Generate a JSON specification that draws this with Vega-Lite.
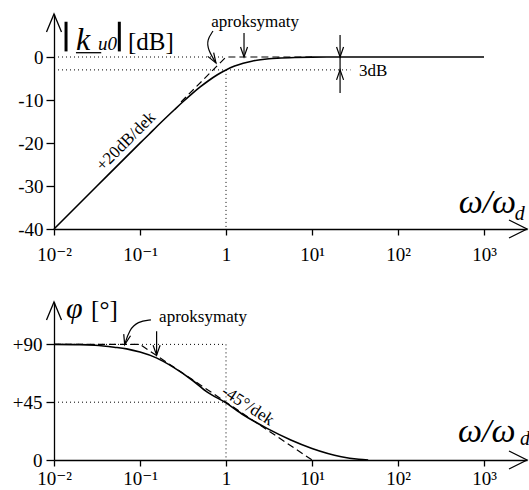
{
  "$schema": "https://vega.github.io/schema/vega-lite/v6.json",
  "background": "white",
  "padding": {"left": 12, "top": 11, "right": 2, "bottom": 0},
  "spacing": 73,
  "bounds": "flush",
  "config": {
    "view": {"stroke": null},
    "axis": {"grid": false, "domainColor": "black", "domainWidth": 1.3, "tickColor": "black", "tickWidth": 1.3, "labelColor": "black", "labelFont": "Liberation Serif, DejaVu Serif, serif", "labelFontSize": 19},
    "text": {"font": "Liberation Serif, DejaVu Serif, serif", "color": "black"},
    "line": {"color": "black"}
  },
  "vconcat": [
    {
      "width": 473,
      "height": 215,
      "encoding": {
        "x": {"field": "w", "type": "quantitative", "scale": {"type": "log", "domain": [0.01, 3162.28], "nice": false},
          "axis": {"title": null, "values": [0.01, 0.1, 1, 10, 100, 1000], "labelExpr": "datum.value == 1 ? '1' : datum.value < 0.05 ? '10⁻²' : datum.value < 0.5 ? '10⁻¹' : datum.value < 50 ? '10¹' : datum.value < 500 ? '10²' : '10³'", "tickSize": 6, "labelPadding": 10, "labelFontSize": 19, "labelFlush": false, "labelOverlap": false}},
        "y": {"field": "v", "type": "quantitative", "scale": {"domain": [-40, 10], "nice": false, "zero": false},
          "axis": {"title": null, "values": [-40, -30, -20, -10, 0], "labelExpr": "datum.value == 0 ? '0' : '-' + abs(datum.value)", "tickSize": 8, "labelPadding": 3}}
      },
      "layer": [
        {
          "data": {"values": [
            {"s": "a", "w": 0.01, "v": 0}, {"s": "a", "w": 1, "v": 0},
            {"s": "b", "w": 0.01, "v": -3}, {"s": "b", "w": 28, "v": -3},
            {"s": "c", "w": 1, "v": -3}, {"s": "c", "w": 1, "v": -40}
          ]},
          "mark": {"type": "line", "strokeDash": [1, 3], "strokeWidth": 1},
          "encoding": {"detail": {"field": "s"}}
        },
        {
          "data": {"values": [{"w": 0.3, "v": -10.46}, {"w": 1, "v": 0}, {"w": 10, "v": 0}]},
          "mark": {"type": "line", "strokeDash": [7, 4], "strokeWidth": 1.2},
          "encoding": {}
        },
        {
          "data": {"values": [
            {"w": 0.01, "v": -40}, {"w": 0.0316, "v": -30}, {"w": 0.1, "v": -20.04}, {"w": 0.126, "v": -18.07},
            {"w": 0.158, "v": -16.11}, {"w": 0.251, "v": -12.27}, {"w": 0.316, "v": -10.41}, {"w": 0.398, "v": -8.64},
            {"w": 0.501, "v": -6.97}, {"w": 0.631, "v": -5.46}, {"w": 0.794, "v": -4.12}, {"w": 1, "v": -3.01},
            {"w": 1.259, "v": -2.12}, {"w": 1.585, "v": -1.46}, {"w": 1.995, "v": -0.97}, {"w": 2.512, "v": -0.64},
            {"w": 3.162, "v": -0.41}, {"w": 3.981, "v": -0.27}, {"w": 6.31, "v": -0.11}, {"w": 10, "v": -0.04},
            {"w": 31.6, "v": 0}, {"w": 1000, "v": 0}
          ]},
          "mark": {"type": "line", "strokeWidth": 1.6, "interpolate": "monotone"},
          "encoding": {}
        },
        {
          "data": {"values": [
            {"s": "c", "i": 1, "w": 0.706, "v": 6.05}, {"s": "c", "i": 2, "w": 0.601, "v": 3.95},
            {"s": "c", "i": 3, "w": 0.618, "v": 1.63}, {"s": "c", "i": 4, "w": 0.765, "v": -1.4},
            {"s": "s", "i": 1, "w": 1.62, "v": 5.6}, {"s": "s", "i": 2, "w": 1.62, "v": 0},
            {"s": "t", "i": 1, "w": 21.2, "v": 5.1}, {"s": "t", "i": 2, "w": 21.2, "v": -8.4}
          ]},
          "mark": {"type": "line", "strokeWidth": 1.2, "interpolate": "basis"},
          "encoding": {"detail": {"field": "s"}, "order": {"field": "i"}}
        },
        {
          "data": {"values": [
            {"s": "a", "w": 0.0138, "v": 8.2}, {"s": "a", "w": 0.0138, "v": 1.3},
            {"s": "b", "w": 0.0575, "v": 8.2}, {"s": "b", "w": 0.0575, "v": 1.3}
          ]},
          "mark": {"type": "line", "strokeWidth": 3, "strokeCap": "butt"},
          "encoding": {"detail": {"field": "s"}}
        },
        {
          "data": {"values": [{"w": 0.018, "v": 1.0}, {"w": 0.0354, "v": 1.0}]},
          "mark": {"type": "line", "strokeWidth": 1.3},
          "encoding": {}
        },
        {
          "data": {"values": [{"w": 1.62, "v": 0}, {"w": 21.2, "v": 0}]},
          "mark": {"type": "point", "shape": "M-0.7,-2L0,0L0.7,-2", "size": 100, "filled": false, "stroke": "black", "strokeWidth": 1.2, "opacity": 1},
          "encoding": {}
        },
        {
          "data": {"values": [{"w": 21.2, "v": -3}]},
          "mark": {"type": "point", "shape": "M-0.7,2L0,0L0.7,2", "size": 100, "filled": false, "stroke": "black", "strokeWidth": 1.2, "opacity": 1},
          "encoding": {}
        },
        {
          "data": {"values": [{"w": 0.765, "v": -1.4}]},
          "mark": {"type": "point", "shape": "M-0.7,-2L0,0L0.7,-2", "size": 100, "angle": -32, "filled": false, "stroke": "black", "strokeWidth": 1.2, "opacity": 1},
          "encoding": {}
        },
        {
          "data": {"values": [{"w": 0.01, "v": 10}]},
          "mark": {"type": "point", "shape": "M-1,2.4L0,0L1,2.4", "size": 225, "filled": false, "stroke": "black", "strokeWidth": 1.3, "opacity": 1},
          "encoding": {}
        },
        {
          "data": {"values": [{"w": 3162.28, "v": -40}]},
          "mark": {"type": "point", "shape": "M-2,-1L0,0L-2,1", "size": 324, "filled": false, "stroke": "black", "strokeWidth": 1.3, "opacity": 1},
          "encoding": {}
        },
        {
          "data": {"values": [{"w": 2.18, "v": 7.0, "t": "aproksymaty"}]},
          "mark": {"type": "text", "fontSize": 17, "align": "center", "baseline": "alphabetic"},
          "encoding": {"text": {"field": "t"}}
        },
        {
          "data": {"values": [{"w": 35.2, "v": -4.4, "t": "3dB"}]},
          "mark": {"type": "text", "fontSize": 17, "align": "left", "baseline": "alphabetic"},
          "encoding": {"text": {"field": "t"}}
        },
        {
          "data": {"values": [{"w": 0.0687, "v": -19.65, "t": "+20dB/dek"}]},
          "mark": {"type": "text", "fontSize": 17, "align": "center", "baseline": "middle", "angle": -45},
          "encoding": {"text": {"field": "t"}}
        },
        {
          "data": {"values": [{"w": 0.018, "v": 1.6, "t": "k"}]},
          "mark": {"type": "text", "fontSize": 32, "fontStyle": "italic", "align": "left", "baseline": "alphabetic"},
          "encoding": {"text": {"field": "t"}}
        },
        {
          "data": {"values": [{"w": 0.0325, "v": 1.6, "t": "u0"}]},
          "mark": {"type": "text", "fontSize": 19, "fontStyle": "italic", "align": "left", "baseline": "alphabetic"},
          "encoding": {"text": {"field": "t"}}
        },
        {
          "data": {"values": [{"w": 0.0725, "v": 1.6, "t": "[dB]"}]},
          "mark": {"type": "text", "fontSize": 25, "align": "left", "baseline": "alphabetic"},
          "encoding": {"text": {"field": "t"}}
        },
        {
          "data": {"values": [{"w": 507, "v": -36.3, "t": "ω/ω"}]},
          "mark": {"type": "text", "fontSize": 34, "fontStyle": "italic", "align": "left", "baseline": "alphabetic"},
          "encoding": {"text": {"field": "t"}}
        },
        {
          "data": {"values": [{"w": 2280, "v": -37.9, "t": "d"}]},
          "mark": {"type": "text", "fontSize": 20, "fontStyle": "italic", "align": "left", "baseline": "alphabetic"},
          "encoding": {"text": {"field": "t"}}
        }
      ]
    },
    {
      "width": 473,
      "height": 158,
      "encoding": {
        "x": {"field": "w", "type": "quantitative", "scale": {"type": "log", "domain": [0.01, 3162.28], "nice": false},
          "axis": {"title": null, "values": [0.01, 0.1, 1, 10, 100, 1000], "labelExpr": "datum.value == 1 ? '1' : datum.value < 0.05 ? '10⁻²' : datum.value < 0.5 ? '10⁻¹' : datum.value < 50 ? '10¹' : datum.value < 500 ? '10²' : '10³'", "tickSize": 6, "labelPadding": 3, "labelFontSize": 19, "labelFlush": false, "labelOverlap": false}},
        "y": {"field": "v", "type": "quantitative", "scale": {"domain": [0, 123], "nice": false, "zero": false},
          "axis": {"title": null, "values": [0, 45, 90], "labelExpr": "datum.value == 0 ? '0' : '+' + datum.value", "tickSize": 8, "labelPadding": 4}}
      },
      "layer": [
        {
          "data": {"values": [
            {"s": "a", "w": 0.01, "v": 90}, {"s": "a", "w": 1, "v": 90},
            {"s": "b", "w": 0.01, "v": 45}, {"s": "b", "w": 1, "v": 45},
            {"s": "c", "w": 1, "v": 90}, {"s": "c", "w": 1, "v": 0}
          ]},
          "mark": {"type": "line", "strokeDash": [1, 3], "strokeWidth": 1},
          "encoding": {"detail": {"field": "s"}}
        },
        {
          "data": {"values": [{"w": 0.01, "v": 90}, {"w": 0.1, "v": 90}, {"w": 10, "v": 0}]},
          "mark": {"type": "line", "strokeDash": [7, 4], "strokeWidth": 1.2},
          "encoding": {}
        },
        {
          "data": {"values": [
            {"w": 0.01, "v": 90}, {"w": 0.02, "v": 89.8}, {"w": 0.03, "v": 89.3}, {"w": 0.05, "v": 87.8},
            {"w": 0.07, "v": 86.5}, {"w": 0.1, "v": 84}, {"w": 0.155, "v": 79.5}, {"w": 0.243, "v": 72.3},
            {"w": 0.417, "v": 61.5}, {"w": 0.6, "v": 53}, {"w": 1, "v": 44.5}, {"w": 1.6, "v": 35},
            {"w": 3.0, "v": 24.6}, {"w": 5.67, "v": 15.6}, {"w": 10, "v": 9}, {"w": 21.9, "v": 2.6},
            {"w": 35, "v": 0.6}, {"w": 45, "v": 0}
          ]},
          "mark": {"type": "line", "strokeWidth": 1.6, "interpolate": "monotone"},
          "encoding": {}
        },
        {
          "data": {"values": [
            {"s": "c", "i": 1, "w": 0.134, "v": 109.1}, {"s": "c", "i": 2, "w": 0.094, "v": 107.8},
            {"s": "c", "i": 3, "w": 0.075, "v": 101.3}, {"s": "c", "i": 4, "w": 0.0664, "v": 89.8},
            {"s": "s", "i": 1, "w": 0.156, "v": 100.3}, {"s": "s", "i": 2, "w": 0.156, "v": 81.6}
          ]},
          "mark": {"type": "line", "strokeWidth": 1.2, "interpolate": "basis"},
          "encoding": {"detail": {"field": "s"}, "order": {"field": "i"}}
        },
        {
          "data": {"values": [{"w": 0.156, "v": 81.6}]},
          "mark": {"type": "point", "shape": "M-0.7,-2L0,0L0.7,-2", "size": 100, "filled": false, "stroke": "black", "strokeWidth": 1.2, "opacity": 1},
          "encoding": {}
        },
        {
          "data": {"values": [{"w": 0.0664, "v": 89.8}]},
          "mark": {"type": "point", "shape": "M-0.7,-2L0,0L0.7,-2", "size": 100, "angle": 14, "filled": false, "stroke": "black", "strokeWidth": 1.2, "opacity": 1},
          "encoding": {}
        },
        {
          "data": {"values": [{"w": 0.01, "v": 123}]},
          "mark": {"type": "point", "shape": "M-1,2.4L0,0L1,2.4", "size": 225, "filled": false, "stroke": "black", "strokeWidth": 1.3, "opacity": 1},
          "encoding": {}
        },
        {
          "data": {"values": [{"w": 3162.28, "v": 0}]},
          "mark": {"type": "point", "shape": "M-2,-1L0,0L-2,1", "size": 324, "filled": false, "stroke": "black", "strokeWidth": 1.3, "opacity": 1},
          "encoding": {}
        },
        {
          "data": {"values": [{"w": 0.54, "v": 107.6, "t": "aproksymaty"}]},
          "mark": {"type": "text", "fontSize": 17, "align": "center", "baseline": "alphabetic"},
          "encoding": {"text": {"field": "t"}}
        },
        {
          "data": {"values": [{"w": 1.79, "v": 42.2, "t": "-45°/dek"}]},
          "mark": {"type": "text", "fontSize": 17, "align": "center", "baseline": "middle", "angle": 33},
          "encoding": {"text": {"field": "t"}}
        },
        {
          "data": {"values": [{"w": 0.0138, "v": 110.7, "t": "φ"}]},
          "mark": {"type": "text", "fontSize": 30, "fontStyle": "italic", "align": "left", "baseline": "alphabetic"},
          "encoding": {"text": {"field": "t"}}
        },
        {
          "data": {"values": [{"w": 0.027, "v": 110.7, "t": "[°]"}]},
          "mark": {"type": "text", "fontSize": 25, "align": "left", "baseline": "alphabetic"},
          "encoding": {"text": {"field": "t"}}
        },
        {
          "data": {"values": [{"w": 500, "v": 14, "t": "ω/ω"}]},
          "mark": {"type": "text", "fontSize": 34, "fontStyle": "italic", "align": "left", "baseline": "alphabetic"},
          "encoding": {"text": {"field": "t"}}
        },
        {
          "data": {"values": [{"w": 2620, "v": 11.7, "t": "d"}]},
          "mark": {"type": "text", "fontSize": 20, "fontStyle": "italic", "align": "left", "baseline": "alphabetic"},
          "encoding": {"text": {"field": "t"}}
        }
      ]
    }
  ]
}
